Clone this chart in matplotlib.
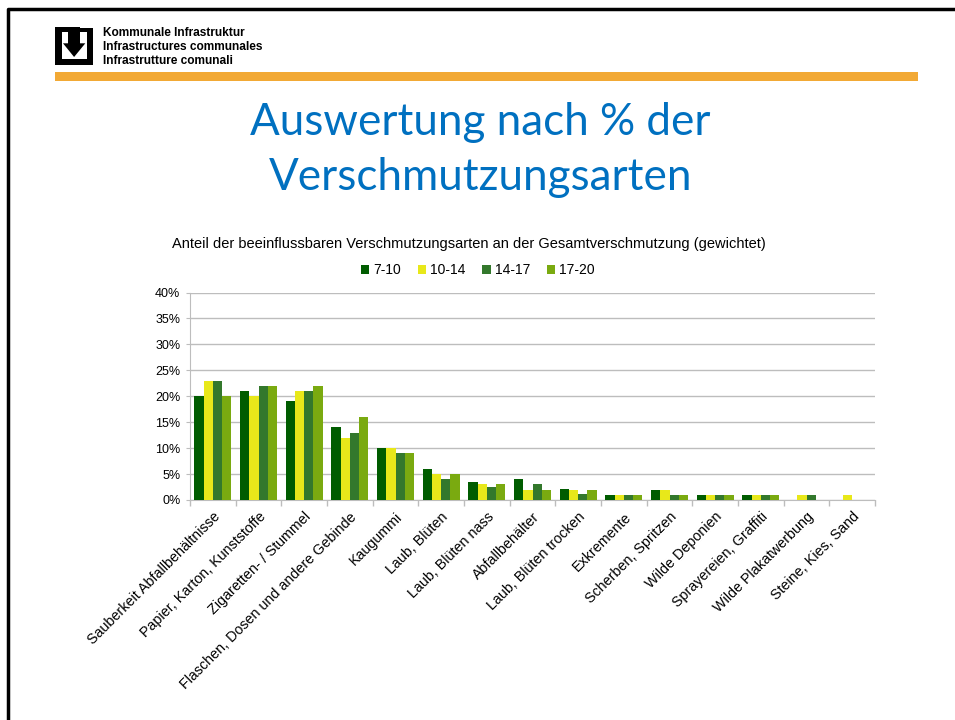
import matplotlib
matplotlib.use("Agg")
import matplotlib.pyplot as plt
import numpy as np
from matplotlib.patches import Rectangle, Polygon

categories = ["Sauberkeit Abfallbehältnisse", "Papier, Karton, Kunststoffe",
              "Zigaretten- / Stummel", "Flaschen, Dosen und andere Gebinde",
              "Kaugummi", "Laub, Blüten", "Laub, Blüten nass", "Abfallbehälter",
              "Laub, Blüten trocken", "Exkremente", "Scherben, Spritzen",
              "Wilde Deponien", "Sprayereien, Graffiti", "Wilde Plakatwerbung",
              "Steine, Kies, Sand"]
series_names = ["7-10", "10-14", "14-17", "17-20"]
s_7_10 = [20, 21, 19, 14, 10, 6, 3.5, 4, 2.2, 1, 2, 1, 1, 0, 0]
s_10_14 = [23, 20, 21, 12, 10, 5, 3, 2, 2, 1, 2, 1, 1, 1, 1]
s_14_17 = [23, 22, 21, 13, 9, 4, 2.5, 3, 1.2, 1, 1, 1, 1, 1, 0]
s_17_20 = [20, 22, 22, 16, 9, 5, 3, 2, 2, 1, 1, 1, 1, 0, 0]
yticks = [0, 5, 10, 15, 20, 25, 30, 35, 40]

colors = ["#005C00", "#E8E81A", "#33782C", "#7AAA10"]

plt.rcParams['font.family'] = ['Liberation Sans', 'DejaVu Sans']

W, H = 955, 720
fig = plt.figure(figsize=(W / 100, H / 100), dpi=100)

# background overlay in pixel coordinates
bg = fig.add_axes([0, 0, 1, 1], zorder=0)
bg.set_xlim(0, W)
bg.set_ylim(H, 0)
bg.axis('off')
bg.plot([7.5, 7.5, W], [H, 8.5, 8.5], color='black', lw=2.5, solid_capstyle='butt')
bg.add_patch(Rectangle((55, 72), 863, 8.5, color='#F2A935', lw=0))
# logo
for (x, y, w, h) in [(55, 26.7, 6.7, 38.3),      # left bar
                     (55, 59.3, 37.7, 5.7),      # bottom bar
                     (87.3, 28.3, 5.4, 36.7),    # right bar
                     (78, 28.3, 14.7, 4),        # top right
                     (55, 26.7, 25, 5.3),        # top left block
                     (68.3, 26.7, 11.7, 17)]:    # stem
    bg.add_patch(Rectangle((x, y), w, h, color='black', lw=0))
bg.add_patch(Polygon([(63, 43.3), (85.3, 43.3), (74.1, 57)], closed=True, color='black', lw=0))
for i, t in enumerate(["Kommunale Infrastruktur", "Infrastructures communales",
                       "Infrastrutture comunali"]):
    bg.text(103, 36.5 + i * 14, t, fontsize=8.6, fontweight='bold', ha='left', va='baseline')

bg.text(480, 135, "Auswertung nach % der", fontsize=31.7, color='#0070C0', ha='center',
        va='baseline', family=['Lato', 'DejaVu Sans'])
bg.text(481, 190, "Verschmutzungsarten", fontsize=31.7, color='#0070C0', ha='center',
        va='baseline', family=['Lato', 'DejaVu Sans'])
bg.text(469, 244, "Anteil der beeinflussbaren Verschmutzungsarten an der Gesamtverschmutzung (gewichtet)",
        fontsize=10.5, ha='center', va='center')

# chart axes
ax = fig.add_axes([190 / W, (H - 500) / H, 685 / W, 207.5 / H], zorder=2)
ax.patch.set_alpha(0)
n = len(categories)
x = np.arange(n)
bw = 0.201
all_series = [s_7_10, s_10_14, s_14_17, s_17_20]
handles = []
for k, (vals, c, name) in enumerate(zip(all_series, colors, series_names)):
    b = ax.bar(x + (k - 1.5) * bw, vals, width=bw, color=c, label=name, zorder=3,
               edgecolor='none')
    handles.append(b)

ax.set_xlim(-0.5, n - 0.5)
ax.set_ylim(0, 40)
ax.set_yticks(yticks)
ax.set_yticklabels([f"{v}%" for v in yticks], fontsize=9)
ax.yaxis.grid(True, color='#BDBDBD', lw=1, zorder=0)
ax.tick_params(axis='y', length=3, color='#BDBDBD', pad=4)
ax.set_xticks(np.arange(n + 1) - 0.5, minor=False)
ax.set_xticklabels([])
ax.tick_params(axis='x', which='major', length=4, color='#BDBDBD', width=1)
ax.set_xticks(x, minor=True)
ax.set_xticklabels(categories, minor=True, rotation=45, ha='right', va='top',
                   rotation_mode='anchor', fontsize=10.3)
ax.tick_params(axis='x', which='minor', length=0, pad=7)
for s in ['top', 'right']:
    ax.spines[s].set_visible(False)
ax.spines['left'].set_color('#BDBDBD')
ax.spines['bottom'].set_color('#BDBDBD')
ax.spines['left'].set_zorder(1)

fig.legend(handles=handles, labels=series_names, ncol=4, loc='center',
           bbox_to_anchor=(478 / W, (H - 270) / H), frameon=False, fontsize=10,
           handlelength=0.6, handleheight=0.6, handletextpad=0.3, columnspacing=1.2)

fig.savefig("out.png", dpi=100)
